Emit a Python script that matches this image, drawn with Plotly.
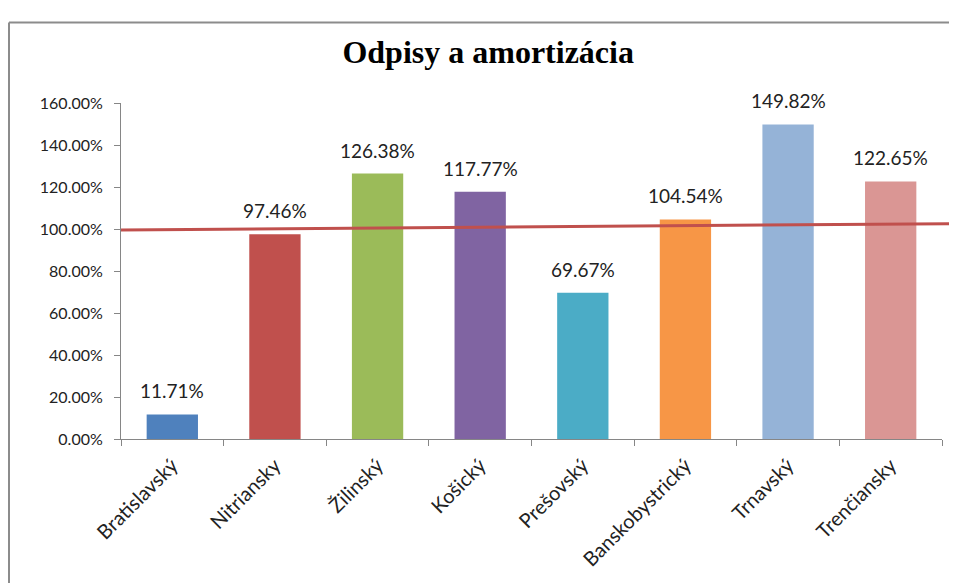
import plotly.graph_objects as go

categories = ["Bratislavský", "Nitriansky", "Žilinský", "Košický", "Prešovský",
              "Banskobystrický", "Trnavský", "Trenčiansky"]
values = [11.71, 97.46, 126.38, 117.77, 69.67, 104.54, 149.82, 122.65]
colors = ["#4F81BD", "#C0504D", "#9BBB59", "#8064A2", "#4BACC6",
          "#F79646", "#95B3D7", "#DA9694"]
y_ticks = [0, 20, 40, 60, 80, 100, 120, 140, 160]
ref_line = [99.5, 102.6]  # hand-drawn reference line (left, right), in %

FONT = "Lato, Liberation Sans, sans-serif"

fig = go.Figure()
fig.add_trace(go.Bar(
    x=categories, y=values, marker=dict(color=colors, line=dict(width=0)),
    width=0.5, showlegend=False, hoverinfo="skip",
))

for c, v in zip(categories, values):
    fig.add_annotation(x=c, y=v, text=f"{v:.2f}%", showarrow=False,
                       yanchor="bottom", yshift=10,
                       font=dict(family=FONT, size=19, color="#222222"))

axis_color = "#868686"
plot_w = 949 - 113 - 15
plot_h = 575 - 95 - 134
fig.update_layout(
    width=949, height=575,
    margin=dict(l=113, r=15, t=95, b=134),
    paper_bgcolor="white", plot_bgcolor="white",
    title=dict(text="<b>Odpisy a amortizácia</b>", x=0.506, xanchor="center",
               y=1 - (52 - 8) / 575, yanchor="middle",
               font=dict(family="Liberation Serif, serif", size=32, color="black")),
    xaxis=dict(showline=True, linecolor=axis_color, linewidth=1, ticks="outside",
               tickson="boundaries", ticklen=6, tickcolor=axis_color, tickangle=-45,
               showgrid=False, ticklabelstandoff=6,
               tickfont=dict(family=FONT, size=20, color="#222222")),
    yaxis=dict(range=[0, 160], tickvals=y_ticks, ticktext=[f"{t:.2f}%" for t in y_ticks],
               showline=True, linecolor=axis_color, linewidth=1, ticks="outside",
               ticklen=6, tickcolor=axis_color, showgrid=False, zeroline=False,
               ticklabelstandoff=8,
               tickfont=dict(family=FONT, size=16, color="#222222")),
    shapes=[
        dict(type="line", xref="paper", yref="y", x0=0.0, x1=1.03,
             y0=ref_line[0], y1=ref_line[1], line=dict(color="#C0504D", width=3)),
        dict(type="line", xref="paper", yref="paper", x0=-112 / plot_w, x1=-112 / plot_w,
             y0=1 + 83 / plot_h, y1=-0.5, line=dict(color="#8c8c8c", width=2)),
        dict(type="line", xref="paper", yref="paper", x0=-112 / plot_w, x1=1.1,
             y0=1 + 83 / plot_h, y1=1 + 83 / plot_h, line=dict(color="#8c8c8c", width=2)),
    ],
)

fig.write_html("out.html")
